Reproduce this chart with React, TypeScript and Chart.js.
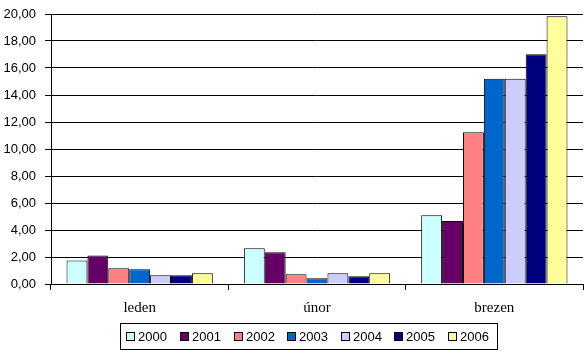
import React, { useEffect, useRef } from "react";
import { Chart, registerables } from "chart.js";

Chart.register(...registerables);

const categories = ["leden", "únor", "brezen"];
const seriesNames = ["2000", "2001", "2002", "2003", "2004", "2005", "2006"];
const seriesColors = ["#CCFFFF", "#660066", "#FF8080", "#0066CC", "#CCCCFF", "#000080", "#FFFF99"];
const values2000 = [1.75, 2.64, 5.09];
const values2001 = [2.12, 2.35, 4.67];
const values2002 = [1.16, 0.72, 11.24];
const values2003 = [1.09, 0.42, 15.21];
const values2004 = [0.64, 0.79, 15.21];
const values2005 = [0.64, 0.57, 17.01];
const values2006 = [0.79, 0.79, 19.83];
const seriesValues = [values2000, values2001, values2002, values2003, values2004, values2005, values2006];

const SANS = '"Liberation Sans", Arial, sans-serif';
const SERIF = '"Liberation Serif", "Times New Roman", serif';

const boxedLegend = {
  id: "boxedLegend",
  afterDraw(chart: any) {
    const ctx = chart.ctx as CanvasRenderingContext2D;
    const ds = chart.data.datasets;
    ctx.save();
    ctx.font = `13px ${SANS}`;
    const box = 9;
    const boxGap = 3;
    const itemGap = 12.7;
    const padL = 6.3;
    const padR = 7.7;
    const widths = ds.map((d: any) => box + boxGap + ctx.measureText(d.label).width);
    const inner = widths.reduce((a: number, b: number) => a + b, 0) + itemGap * (ds.length - 1);
    const W = Math.round(inner + padL + padR);
    const H = 26;
    const centerX = 308.5;
    const left = Math.round(centerX - W / 2);
    const top = Math.round(chart.chartArea.bottom) + 39;
    ctx.strokeStyle = "#000";
    ctx.lineWidth = 1;
    ctx.strokeRect(left + 0.5, top + 0.5, W, H);
    let x = left + padL;
    const boxTop = top + 9;
    ds.forEach((d: any, i: number) => {
      const bx = Math.round(x);
      ctx.fillStyle = d.backgroundColor;
      ctx.fillRect(bx, boxTop, box, box);
      ctx.strokeStyle = "#000";
      ctx.strokeRect(bx + 0.5, boxTop + 0.5, box - 1, box - 1);
      ctx.fillStyle = "#000";
      ctx.textBaseline = "middle";
      ctx.textAlign = "left";
      ctx.fillText(d.label, bx + box + boxGap, boxTop + box / 2 + 0.5);
      x += widths[i] + itemGap;
    });
    ctx.restore();
  },
};

export default function App() {
  const ref = useRef<HTMLCanvasElement | null>(null);
  useEffect(() => {
    document.body.style.margin = "0";
    const canvas = ref.current;
    if (!canvas) return;
    const chart = new Chart(canvas, {
      type: "bar",
      data: {
        labels: categories,
        datasets: seriesNames.map((name, i) => ({
          label: name,
          data: seriesValues[i],
          backgroundColor: seriesColors[i],
          borderColor: "#000",
          borderWidth: 1,
          categoryPercentage: 0.825,
          barPercentage: 1.0,
        })),
      },
      options: {
        animation: false,
        responsive: false,
        devicePixelRatio: 1,
        layout: { padding: { top: 14, right: 4, bottom: 35, left: 0 } },
        plugins: {
          legend: { display: false },
          tooltip: { enabled: false },
          title: { display: false },
        },
        scales: {
          x: {
            afterFit: (s: any) => {
              s.height = 36;
              s.paddingLeft = 0;
              s.paddingRight = 0;
            },
            grid: {
              display: true,
              drawOnChartArea: false,
              drawTicks: true,
              tickLength: 6,
              color: "#000",
              offset: true,
            },
            border: { display: true, color: "#000", width: 1 },
            ticks: { color: "#000", font: { family: SERIF, size: 15 }, padding: 9, maxRotation: 0 },
          },
          y: {
            min: 0,
            max: 20,
            afterFit: (s: any) => {
              s.width = 51;
              s.paddingTop = 0;
              s.paddingBottom = 0;
            },
            ticks: {
              stepSize: 2,
              color: "#000",
              font: { family: SANS, size: 13 },
              padding: 9,
              callback: (v: any) => Number(v).toFixed(2).replace(".", ","),
            },
            grid: { color: "#000", tickLength: 6, drawTicks: true, lineWidth: 1 },
            border: { display: true, color: "#000", width: 1 },
          },
        },
      },
      plugins: [boxedLegend],
    });
    return () => chart.destroy();
  }, []);
  return <canvas ref={ref} width={587} height={355} style={{ display: "block", width: 587, height: 355 }} />;
}
